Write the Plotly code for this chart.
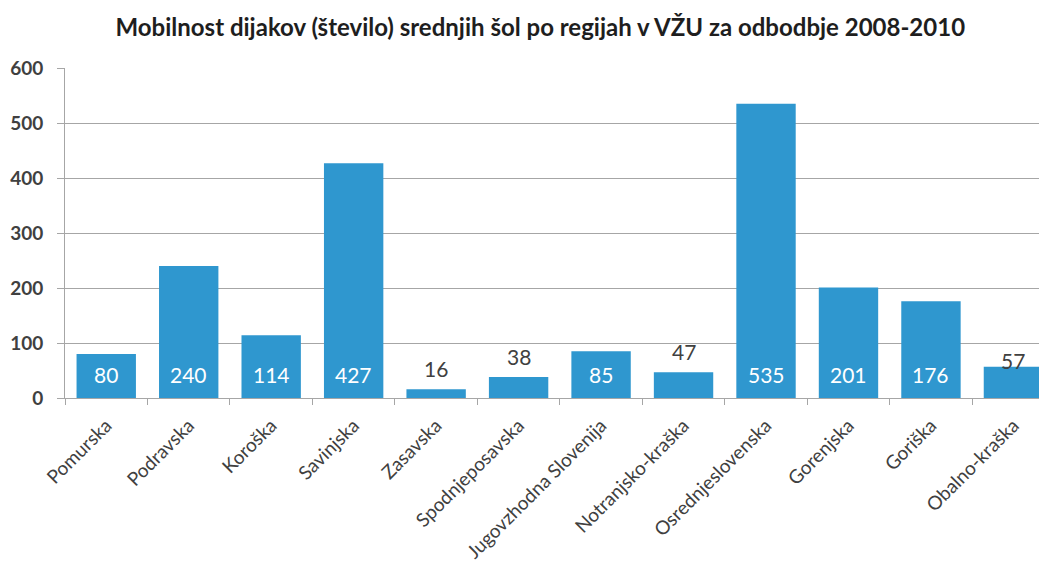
import plotly.graph_objects as go

categories = ["Pomurska", "Podravska", "Koroška", "Savinjska", "Zasavska", "Spodnjeposavska",
              "Jugovzhodna Slovenija", "Notranjsko-kraška", "Osrednjeslovenska", "Gorenjska",
              "Goriška", "Obalno-kraška"]
values = [80, 240, 114, 427, 16, 38, 85, 47, 535, 201, 176, 57]
y_ticks = [0, 100, 200, 300, 400, 500, 600]
title = "Mobilnost dijakov (število) srednjih šol po regijah v VŽU za odbodbje 2008-2010"

BAR = "#2F97CF"
DARK = "#404040"
FONT = "Lato"

fig = go.Figure()
fig.add_trace(go.Bar(
    x=categories, y=values, marker=dict(color=BAR, line=dict(width=0)),
    hoverinfo="x+y",
))

for i, (c, v) in enumerate(zip(categories, values)):
    if v >= 70:
        fig.add_annotation(x=c, y=0, text=str(v), showarrow=False, yanchor="middle",
                           yshift=24, font=dict(family=FONT, size=21, color="white"))
    else:
        shift = -8 if v > 50 else 6
        fig.add_annotation(x=c, y=v, text=str(v), showarrow=False, yanchor="bottom",
                           yshift=shift, font=dict(family=FONT, size=21, color=DARK))

fig.update_layout(
    width=1039, height=575,
    margin=dict(l=65, r=0, t=68, b=177, autoexpand=False),
    paper_bgcolor="white", plot_bgcolor="white",
    bargap=0.28,
    showlegend=False,
    title=dict(text="<b>" + title + "</b>", x=0.52, xanchor="center", y=0.952, yanchor="middle",
               font=dict(family=FONT, size=24, color="#1E1E1E")),
    font=dict(family=FONT, color=DARK),
)
fig.update_xaxes(
    type="category", range=[-0.5, 11.31], tickangle=-45, automargin=False,
    tickfont=dict(family=FONT, size=19, color=DARK),
    showline=True, linecolor="#A6A6A6", linewidth=1,
    ticks="outside", tickson="boundaries", ticklen=6, tickcolor="#A6A6A6",
    showgrid=False, ticklabelstandoff=8,
)
fig.update_yaxes(
    range=[0, 600], tickvals=y_ticks, automargin=False,
    tickfont=dict(family=FONT, size=19, color=DARK, weight="bold"),
    showline=True, linecolor="#A6A6A6", linewidth=1,
    ticks="outside", ticklen=7, tickcolor="#A6A6A6", ticklabelstandoff=10,
    showgrid=True, gridcolor="#A6A6A6", gridwidth=1,
    zeroline=False,
)

fig.write_html("out.html", config={"displayModeBar": False},
               post_script="document.body.style.margin='0';")
